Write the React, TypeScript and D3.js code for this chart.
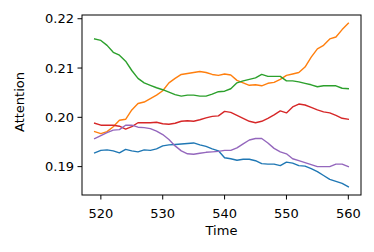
import React from 'react';
import * as d3 from 'd3';

const WIDTH = 374;
const HEIGHT = 252;
const MARGIN = { top: 15, right: 13, bottom: 57, left: 82 };

const times = d3.range(519, 561);

const blue = [
  0.1928, 0.1933, 0.1934, 0.1932, 0.1928, 0.1935, 0.1932, 0.1930, 0.1934, 0.1933,
  0.1936, 0.1942, 0.1944, 0.1945, 0.1946, 0.1947, 0.1948, 0.1944, 0.1941, 0.1936,
  0.1932, 0.1918, 0.1916, 0.1913, 0.1915, 0.1915, 0.1912, 0.1906, 0.1905, 0.1905,
  0.1902, 0.1909, 0.1907, 0.1902, 0.1901, 0.1896, 0.1890, 0.1882, 0.1874, 0.1870,
  0.1866, 0.1859,
];
const orange = [
  0.1971, 0.1967, 0.1971, 0.1981, 0.1994, 0.1996, 0.2015, 0.2028, 0.2031, 0.2038,
  0.2045, 0.2054, 0.2070, 0.2079, 0.2087, 0.2089, 0.2091, 0.2093, 0.2091, 0.2087,
  0.2085, 0.2088, 0.2086, 0.2075, 0.2070, 0.2065, 0.2066, 0.2064, 0.2069, 0.2071,
  0.2077, 0.2085, 0.2088, 0.2091, 0.2102, 0.2122, 0.2139, 0.2146, 0.2159, 0.2163,
  0.2178, 0.2191,
];
const green = [
  0.2159, 0.2156, 0.2146, 0.2132, 0.2126, 0.2114, 0.2095, 0.2079, 0.2070, 0.2065,
  0.2060, 0.2056, 0.2051, 0.2046, 0.2043, 0.2045, 0.2045, 0.2043, 0.2043, 0.2047,
  0.2052, 0.2053, 0.2058, 0.2070, 0.2074, 0.2077, 0.2080, 0.2087, 0.2083, 0.2083,
  0.2083, 0.2074, 0.2074, 0.2072, 0.2069, 0.2066, 0.2062, 0.2064, 0.2064, 0.2064,
  0.2059, 0.2058,
];
const red = [
  0.1988, 0.1984, 0.1984, 0.1984, 0.1982, 0.1976, 0.1981, 0.1989, 0.1989, 0.1989,
  0.1990, 0.1987, 0.1986, 0.1988, 0.1992, 0.1993, 0.1992, 0.1995, 0.1999, 0.2002,
  0.2003, 0.2012, 0.2010, 0.2004, 0.1998, 0.1992, 0.1989, 0.1992, 0.1998, 0.2005,
  0.2013, 0.2009, 0.2021, 0.2027, 0.2025, 0.2020, 0.2015, 0.2011, 0.2009, 0.2004,
  0.1998, 0.1996,
];
const purple = [
  0.1957, 0.1963, 0.1969, 0.1974, 0.1975, 0.1984, 0.1984, 0.1980, 0.1979, 0.1977,
  0.1972, 0.1965, 0.1955, 0.1942, 0.1932, 0.1926, 0.1925, 0.1927, 0.1929, 0.1930,
  0.1931, 0.1933, 0.1933, 0.1938, 0.1946, 0.1954, 0.1957, 0.1957, 0.1948, 0.1937,
  0.1930, 0.1926, 0.1916, 0.1912, 0.1908, 0.1904, 0.1900, 0.1900, 0.1900, 0.1905,
  0.1905, 0.1900,
];

const series = [
  { name: 'blue', color: '#1f77b4', values: blue },
  { name: 'orange', color: '#ff7f0e', values: orange },
  { name: 'green', color: '#2ca02c', values: green },
  { name: 'red', color: '#d62728', values: red },
  { name: 'purple', color: '#9467bd', values: purple },
];

const xTicks = [520, 530, 540, 550, 560];
const yTicks = [0.19, 0.2, 0.21, 0.22];

const FONT = 'DejaVu Sans, sans-serif';

export default function App() {
  const innerW = WIDTH - MARGIN.left - MARGIN.right;
  const innerH = HEIGHT - MARGIN.top - MARGIN.bottom;

  // matplotlib-style 5% padding around the data
  const [xMin, xMax] = d3.extent(times) as [number, number];
  const xPad = (xMax - xMin) * 0.05;
  const allVals = series.flatMap(s => s.values);
  const yMin = d3.min(allVals) as number;
  const yMax = d3.max(allVals) as number;
  const yPad = (yMax - yMin) * 0.05;

  const x = d3.scaleLinear().domain([xMin - xPad, xMax + xPad]).range([0, innerW]);
  const y = d3.scaleLinear().domain([yMin - yPad, yMax + yPad]).range([innerH, 0]);

  const line = d3.line<number>()
    .x((_, i) => x(times[i]))
    .y(d => y(d));

  return (
    <svg width={WIDTH} height={HEIGHT} style={{ position: 'absolute', left: 0, top: 0, background: '#fff' }}>
      <g transform={`translate(${MARGIN.left},${MARGIN.top})`}>
        {series.map(s => (
          <path key={s.name} d={line(s.values) || ''} fill="none" stroke={s.color}
            strokeWidth={1.4} strokeLinejoin="round" strokeLinecap="square" />
        ))}

        <rect x={0} y={0} width={innerW} height={innerH} fill="none" stroke="#000" strokeWidth={1} />

        {xTicks.map(t => (
          <g key={t} transform={`translate(${x(t)},${innerH})`}>
            <line y1={0} y2={4.5} stroke="#000" strokeWidth={1} />
            <text y={23} textAnchor="middle" fontSize={13} fontFamily={FONT} fill="#000">{t}</text>
          </g>
        ))}

        {yTicks.map(t => (
          <g key={t} transform={`translate(0,${y(t)})`}>
            <line x1={0} x2={-4.5} stroke="#000" strokeWidth={1} />
            <text x={-8} dy="0.36em" textAnchor="end" fontSize={13} fontFamily={FONT} fill="#000">
              {d3.format('.2f')(t)}
            </text>
          </g>
        ))}

        <text x={innerW / 2} y={innerH + 40} textAnchor="middle" fontSize={13} fontFamily={FONT} fill="#000">Time</text>
        <text transform={`translate(${24 - MARGIN.left},${102 - MARGIN.top}) rotate(-90)`} textAnchor="middle"
          fontSize={13} fontFamily={FONT} fill="#000">Attention</text>
      </g>
    </svg>
  );
}
